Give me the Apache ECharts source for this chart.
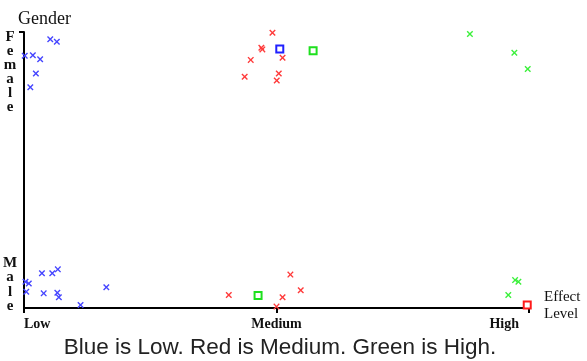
<!DOCTYPE html>
<html>
<head>
<meta charset="utf-8">
<script src="https://cdn.jsdelivr.net/npm/echarts@6/dist/echarts.min.js"></script>
<style>html,body{margin:0;padding:0;background:#fff;}#c{width:587px;height:361px;}</style>
</head>
<body>
<div id="c"></div>
<script>
// Effect level on x (0 = Low, 1 = Medium, 2 = High), gender on y (0 = Male, 1 = Female), jittered
const xTickLabels = ['Low', 'Medium', 'High'];
const yTickLabels = ['Male', 'Female'];
const xAxisTitle = ['Effect', 'Level'];
const yAxisTitle = 'Gender';
const caption = 'Blue is Low. Red is Medium. Green is High.';

const blueCross = [
  [0.104, 0.974], [0.130, 0.965], [0.003, 0.914], [0.035, 0.916], [0.064, 0.901],
  [0.047, 0.850], [0.025, 0.800],
  [0.071, 0.126], [0.112, 0.126], [0.134, 0.140], [0.019, 0.089], [0.006, 0.095],
  [0.009, 0.059], [0.078, 0.053], [0.132, 0.055], [0.138, 0.039], [0.224, 0.011],
  [0.326, 0.075]
];
const redCross = [
  [0.984, 0.997], [0.940, 0.943], [0.944, 0.937], [0.898, 0.899], [1.024, 0.907],
  [0.874, 0.838], [1.009, 0.850], [1.001, 0.824],
  [1.055, 0.121], [1.096, 0.064], [0.811, 0.047], [1.024, 0.039], [1.000, 0.005]
];
const greenCross = [
  [1.766, 0.993], [1.942, 0.925], [1.995, 0.866],
  [1.945, 0.101], [1.958, 0.095], [1.918, 0.047]
];
const blueSquare = [[1.013, 0.938]];
const redSquare = [[1.993, 0.011]];
const greenSquare = [[1.145, 0.932], [0.927, 0.045]];

const crossPath = 'path://M0,1.5L1.5,0L5,3.5L8.5,0L10,1.5L6.5,5L10,8.5L8.5,10L5,6.5L1.5,10L0,8.5L3.5,5Z';

function crossSeries(data, color) {
  return { type: 'scatter', data: data, symbol: crossPath, symbolSize: 6.5,
    itemStyle: { color: color, opacity: 1 }, silent: true, clip: false };
}
function squareSeries(data, color) {
  return { type: 'scatter', data: data, symbol: 'rect', symbolSize: 7,
    itemStyle: { color: '#fff', borderColor: color, borderWidth: 2, opacity: 1 }, silent: true, clip: false, z: 3 };
}

const chart = echarts.init(document.getElementById('c'), null, { renderer: 'canvas' });
const serif = 'Liberation Serif';
chart.setOption({
  animation: false,
  backgroundColor: '#fff',
  grid: { left: 24, right: 58, top: 32, bottom: 53, containLabel: false },
  xAxis: {
    type: 'value', min: 0, max: 2, interval: 1,
    splitLine: { show: false },
    axisLine: { show: true, onZero: false, lineStyle: { color: '#000', width: 2 } },
    axisTick: { show: true, length: 5, lineStyle: { color: '#000', width: 2 } },
    axisLabel: {
      show: true, margin: 9, color: '#111', fontFamily: serif, fontSize: 14, fontWeight: 'bold',
      alignMinLabel: 'left', alignMaxLabel: 'right',
      formatter: function (v) {
        const t = xTickLabels[Math.round(v)];
        return v === 2 ? '{h|' + t + '}' : t;
      },
      rich: { h: { fontFamily: serif, fontSize: 14, fontWeight: 'bold', color: '#111', padding: [0, 10, 0, 0] } }
    }
  },
  yAxis: {
    type: 'value', min: 0, max: 1, interval: 1,
    splitLine: { show: false },
    axisLine: { show: true, onZero: false, lineStyle: { color: '#000', width: 2 } },
    axisTick: { show: true, length: 5, customValues: [1], lineStyle: { color: '#000', width: 2 } },
    axisLabel: { show: false }
  },
  series: [
    crossSeries(blueCross, '#4545ff'),
    crossSeries(redCross, '#ff3a3a'),
    crossSeries(greenCross, '#3cf03c'),
    squareSeries(blueSquare, '#2020ff'),
    squareSeries(redSquare, '#ff1a1a'),
    squareSeries(greenSquare, '#1ee01e')
  ],
  graphic: [
    { type: 'text', left: 18, top: 10, style: { text: yAxisTitle, font: '18px ' + serif, fill: '#111' } },
    { type: 'text', x: 10, y: 30, style: { text: yTickLabels[1].split('').join('\n'), font: 'bold 15px ' + serif, lineHeight: 14, fill: '#111', align: 'center', verticalAlign: 'top' } },
    { type: 'text', x: 10, y: 256, style: { text: yTickLabels[0].split('').join('\n'), font: 'bold 15px ' + serif, lineHeight: 14.3, fill: '#111', align: 'center', verticalAlign: 'top' } },
    { type: 'text', x: 544, y: 289, style: { text: xAxisTitle.join('\n'), font: '15px ' + serif, lineHeight: 17, fill: '#111', align: 'left', verticalAlign: 'top' } },
    { type: 'text', x: 280, y: 348, style: { text: caption, font: '22.5px Liberation Sans', fill: '#222', align: 'center', verticalAlign: 'middle' } }
  ]
});
</script>
</body>
</html>
